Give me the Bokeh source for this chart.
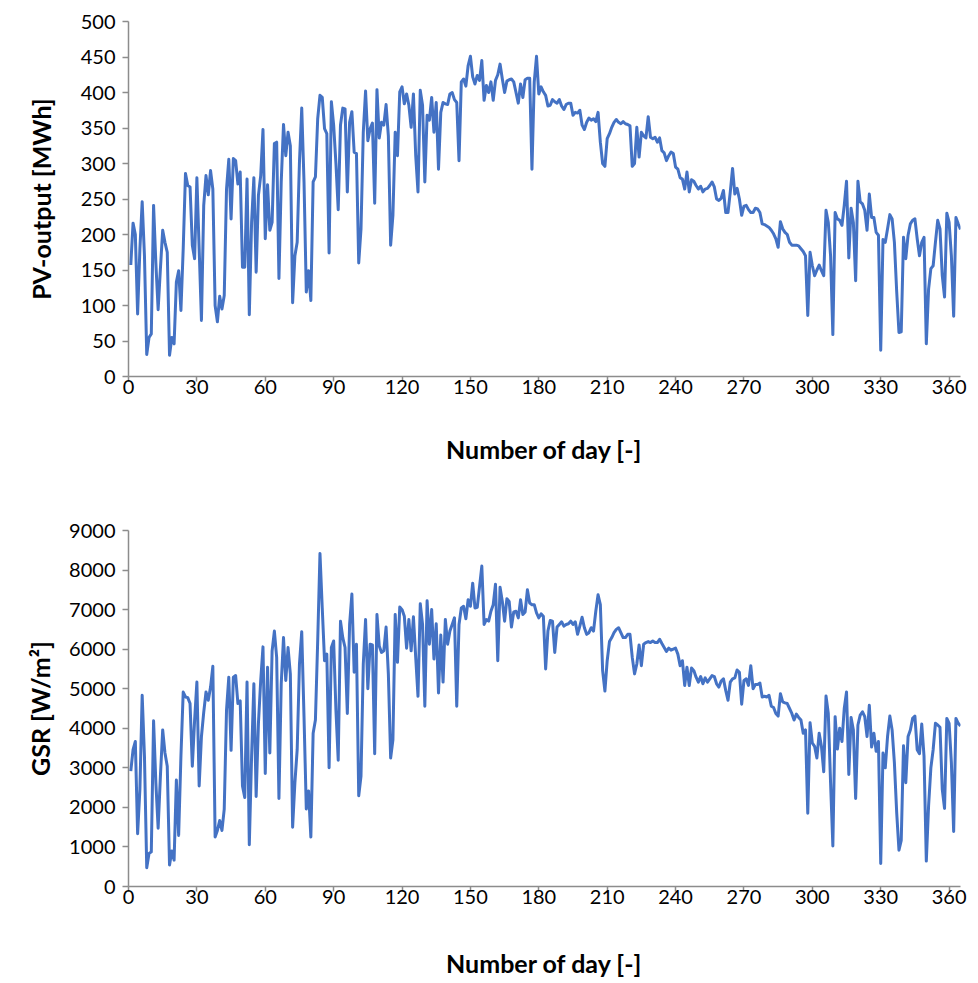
from bokeh.plotting import figure
from bokeh.layouts import column
from bokeh.models import FixedTicker, Range1d, ColumnDataSource
from bokeh.embed import file_html
from bokeh.resources import INLINE

# ---------------- data ----------------
days = list(range(1, 366))

pv_output = [
    157, 216, 200, 88, 180, 246, 170, 31, 55, 60,
    241, 160, 94, 152, 206, 189, 175, 30, 55, 46,
    133, 149, 93, 180, 286, 269, 267, 185, 166, 280,
    180, 79, 241, 283, 256, 290, 264, 100, 77, 113,
    95, 114, 264, 306, 222, 307, 304, 271, 288, 154,
    154, 278, 87, 217, 280, 147, 255, 283, 348, 194,
    270, 206, 217, 328, 330, 138, 274, 355, 311, 344,
    325, 104, 170, 189, 302, 378, 274, 119, 149, 107,
    274, 281, 363, 396, 393, 349, 342, 174, 387, 354,
    300, 235, 354, 378, 377, 260, 358, 373, 316, 314,
    160, 208, 344, 402, 332, 349, 357, 244, 404, 336,
    358, 354, 383, 339, 185, 227, 344, 311, 401, 408,
    384, 398, 382, 351, 398, 311, 260, 403, 382, 274,
    368, 361, 393, 344, 386, 292, 372, 386, 384, 383,
    398, 400, 390, 386, 304, 415, 419, 409, 438, 451,
    422, 412, 424, 417, 445, 389, 410, 400, 415, 389,
    417, 425, 440, 419, 400, 416, 418, 419, 415, 400,
    385, 412, 393, 418, 420, 420, 292, 415, 451, 398,
    408, 401, 396, 381, 382, 390, 387, 385, 390, 381,
    376, 383, 385, 385, 368, 372, 371, 375, 354, 348,
    358, 364, 361, 363, 359, 372, 330, 300, 296, 335,
    342, 351, 358, 362, 358, 356, 359, 356, 355, 353,
    296, 300, 351, 309, 344, 339, 336, 366, 337, 335,
    337, 330, 336, 318, 315, 304, 311, 316, 314, 295,
    292, 280, 278, 264, 288, 260, 277, 275, 269, 264,
    268, 260, 264, 265, 269, 274, 267, 250, 248, 251,
    262, 231, 231, 260, 293, 257, 265, 250, 227, 240,
    241, 235, 231, 231, 237, 236, 231, 215, 214, 212,
    210, 206, 201, 194, 182, 218, 208, 203, 200, 189,
    185, 185, 185, 184, 180, 176, 170, 86, 175, 156,
    142, 150, 157, 149, 142, 234, 217, 170, 59, 231,
    222, 220, 213, 241, 275, 167, 237, 217, 135, 275,
    246, 243, 234, 206, 257, 224, 224, 203, 199, 37,
    193, 189, 208, 228, 222, 189, 120, 62, 63, 196,
    166, 199, 215, 220, 222, 194, 170, 189, 196, 46,
    123, 152, 156, 189, 220, 208, 142, 112, 230, 217,
    170, 85, 224, 215, 207,
]

gsr = [
    2917, 3458, 3667, 1333, 2458, 4833, 3292, 475, 833, 875,
    4192, 2625, 1475, 2792, 3958, 3375, 3042, 542, 900, 667,
    2692, 1292, 3292, 4917, 4792, 4775, 4625, 3042, 4200, 5167,
    2542, 3792, 4400, 4917, 4708, 5042, 5567, 1250, 1417, 1667,
    1417, 1958, 4458, 5292, 3442, 5292, 5333, 4625, 4692, 2542,
    2250, 5167, 1058, 3292, 5125, 2275, 4125, 5208, 6058, 2858,
    5542, 3375, 5958, 6458, 5792, 2225, 5125, 6292, 5208, 6042,
    5375, 1500, 2625, 3458, 5625, 6442, 4292, 1958, 2417, 1250,
    3875, 4208, 6208, 8417, 7042, 5708, 5875, 3000, 6042, 6208,
    4458, 3192, 6708, 6292, 6042, 4375, 6625, 7392, 5417, 6125,
    2292, 2792, 5625, 6750, 5000, 6125, 6108, 3358, 6875, 6083,
    5917, 5958, 6558, 5375, 3250, 3708, 6875, 5667, 7067, 7000,
    6833, 6025, 6750, 5958, 6817, 5792, 4808, 7150, 6625, 4558,
    7225, 6125, 7000, 5750, 6642, 4892, 6358, 5167, 6750, 6125,
    6458, 6625, 6792, 4558, 6625, 7042, 7083, 6767, 7250, 7083,
    7667, 7042, 7058, 7583, 8100, 6625, 6750, 6708, 6958, 7125,
    7642, 5708, 7567, 7208, 6708, 7275, 7208, 6558, 6942, 6958,
    6792, 7250, 6875, 6942, 7500, 7167, 7125, 7125, 6917, 6792,
    6892, 6833, 5500, 6458, 6725, 6708, 5917, 6558, 6625, 6692,
    6583, 6625, 6642, 6708, 6625, 6692, 6375, 6583, 6808, 6542,
    6375, 6417, 6542, 6458, 6958, 7375, 7125, 5458, 4942, 5708,
    6192, 6292, 6417, 6500, 6542, 6417, 6292, 6292, 6375, 6375,
    5792, 5375, 5625, 6108, 5583, 6125, 6167, 6192, 6167, 6208,
    6167, 6167, 6250, 6142, 6042, 5942, 6025, 5975, 6000, 6025,
    5875, 5583, 5708, 5083, 5542, 5083, 5525, 5458, 5292, 5167,
    5308, 5125, 5275, 5167, 5250, 5333, 5308, 5125, 5042, 5192,
    5250, 4958, 4708, 5167, 5250, 5275, 5475, 5417, 4608, 5208,
    5250, 5083, 5583, 5000, 5108, 5108, 5142, 4792, 4808, 4792,
    4833, 4558, 4525, 4375, 4308, 4875, 4667, 4642, 4625, 4500,
    4375, 4208, 4358, 4275, 4208, 3875, 3958, 1850, 4142, 3625,
    3542, 3250, 3875, 3542, 2900, 4817, 4375, 2625, 1025, 4292,
    3475, 4000, 3667, 4500, 4917, 2833, 4275, 3958, 2225, 4083,
    4333, 4417, 4292, 3792, 4583, 3525, 3875, 3417, 3667, 583,
    3375, 3000, 3792, 4308, 3958, 3125, 1875, 917, 1167, 3558,
    2625, 3792, 3958, 4250, 4308, 3458, 3358, 4108, 3292, 642,
    2042, 3000, 3458, 4125, 4083, 4025, 2458, 1975, 4250, 4125,
    3125, 1392, 4250, 4125, 4058,
]

x_ticks = [0, 30, 60, 90, 120, 150, 180, 210, 240, 270, 300, 330, 360]
pv_ticks = [0, 50, 100, 150, 200, 250, 300, 350, 400, 450, 500]
gsr_ticks = [0, 1000, 2000, 3000, 4000, 5000, 6000, 7000, 8000, 9000]

x_title = "Number of day [-]"
pv_title = "PV-output [MWh]"
gsr_title = "GSR [W/m\u00b2]"

LINE_COLOR = "#4472C4"
AXIS_COLOR = "#8C8C8C"
FONT = "Lato"


def style(p, yticks, ytitle, x_standoff, y_standoff):
    p.xaxis.ticker = FixedTicker(ticks=x_ticks)
    p.yaxis.ticker = FixedTicker(ticks=yticks)
    p.xgrid.visible = False
    p.ygrid.visible = False
    p.outline_line_color = None
    p.xaxis.axis_label = x_title
    p.yaxis.axis_label = ytitle
    for ax in (p.xaxis, p.yaxis):
        ax.axis_line_color = AXIS_COLOR
        ax.axis_line_width = 1.5
        ax.major_tick_line_color = AXIS_COLOR
        ax.major_tick_line_width = 1.5
        ax.major_tick_out = 6
        ax.major_tick_in = 0
        ax.minor_tick_line_color = None
        ax.major_label_text_font = FONT
        ax.major_label_text_font_size = "20px"
        ax.major_label_text_color = "#000000"
        ax.axis_label_text_font = FONT
        ax.axis_label_text_font_style = "bold"
        ax.axis_label_text_font_size = "25px"
        ax.axis_label_text_color = "#000000"
    p.xaxis.major_tick_out = 5
    p.xaxis.major_label_standoff = -2
    p.yaxis.major_label_standoff = 7
    p.xaxis.axis_label_standoff = x_standoff
    p.yaxis.axis_label_standoff = y_standoff


src = ColumnDataSource(data=dict(day=days, pv=pv_output, gsr=gsr))

p1 = figure(width=968, height=498, output_backend="svg", toolbar_location=None,
            x_range=Range1d(0, 365), y_range=Range1d(0, 500),
            min_border_left=128, min_border_right=8, min_border_top=21,
            min_border_bottom=122)
p1.line("day", "pv", source=src, line_color=LINE_COLOR, line_width=3,
        line_join="round")
style(p1, pv_ticks, pv_title, 37, 22)

p2 = figure(width=968, height=482, output_backend="svg", toolbar_location=None,
            x_range=Range1d(0, 365), y_range=Range1d(0, 9000),
            min_border_left=128, min_border_right=8, min_border_top=32,
            min_border_bottom=90)
p2.line("day", "gsr", source=src, line_color=LINE_COLOR, line_width=3,
        line_join="round")
style(p2, gsr_ticks, gsr_title, 41, 11)

layout = column(p1, p2)
open("out.html", "w").write(file_html(layout, INLINE))
